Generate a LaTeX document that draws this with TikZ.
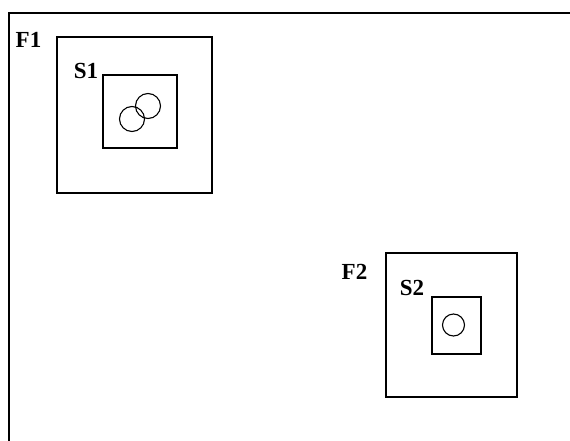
\documentclass[tikz,border=0pt]{standalone}
\usepackage{fontspec}
\setmainfont{Liberation Serif}
\begin{document}
\begin{tikzpicture}[x=1pt,y=-1pt,
  frame/.style={draw=black,line width=2pt},
  box/.style={draw=black,line width=1.8pt},
  ring/.style={draw=black,line width=1.1pt},
  lbl/.style={inner sep=0pt,font=\fontsize{23}{25}\selectfont\bfseries}]
\useasboundingbox (0,0) rectangle (570,441);
% outer frame (only top and left visible)
\coordinate (fbl) at (9,441);
\coordinate (ftl) at (9,13);
\coordinate (ftr) at (570,13);
\draw[frame] (fbl) -- (ftl) -- (ftr);
% F1
\draw[box] (57,37) rectangle (212,193);
\draw[box] (103,75) rectangle (177,148);
\draw[ring] (132,119) circle (12.5);
\draw[ring] (148,106) circle (12.5);
\node[lbl] (F1) at (28.5,40) {F1};
\node[lbl] (S1) at (86,70.5) {S1};
% F2
\draw[box] (386,253) rectangle (517,397);
\draw[box] (432,297) rectangle (481,354);
\draw[ring] (453.5,325) circle (11);
\node[lbl] (F2) at (354.5,272) {F2};
\node[lbl] (S2) at (412,287.5) {S2};
\end{tikzpicture}
\end{document}
